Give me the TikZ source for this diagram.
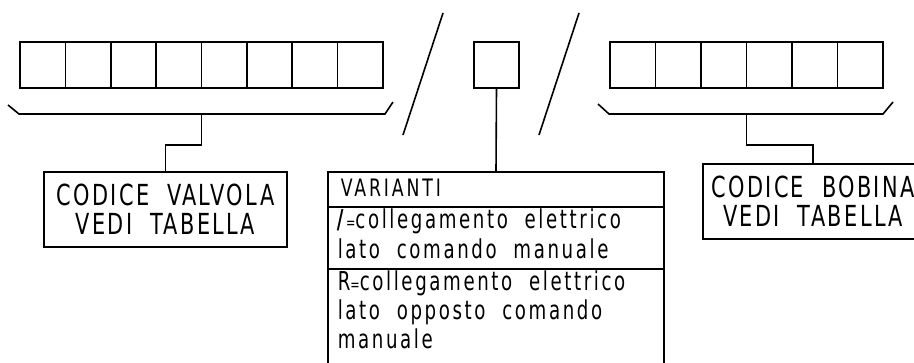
\documentclass[tikz,border=0pt]{standalone}
\usepackage{fontspec}
\newfontfamily\cadcaps{DejaVu Sans}[FakeStretch=0.72, LetterSpace=8, WordSpace=2]
\newfontfamily\cadtext{DejaVu Sans}[FakeStretch=0.7, LetterSpace=10, WordSpace=2]
\newfontfamily\cadhead{DejaVu Sans}[FakeStretch=0.72, LetterSpace=12]
\begin{document}
\begin{tikzpicture}[x=1pt, y=-1pt, line width=1.6pt,
  cell/.style={draw, minimum width=45.4pt, minimum height=46pt, inner sep=0pt, outer sep=0pt},
  capbox/.style={draw, inner sep=0pt, outer sep=0pt, align=center,
    font=\cadcaps\fontsize{29}{29}\selectfont},
  vline/.style={anchor=base west, inner sep=0pt, font=\cadtext\fontsize{26}{26}\selectfont}]
\useasboundingbox (0,0) rectangle (914,363);
\clip (0,0) rectangle (914,363);
% cell strips
\foreach \i in {1,...,8} \node[cell] (L\i) at ({20+45.375*(\i-0.5)},65) {};
\foreach \i in {1,...,6} \node[cell, minimum width=45.5pt] (R\i) at ({610+45.5*(\i-0.5)},65) {};
\node[cell, minimum width=45pt] (M) at (496.5,65) {};
% separating slashes
\draw (403,135) -- (443,13);
\draw (539,135) -- (579,13);
% brackets
\coordinate (lbm) at (201.5,114);
\coordinate (rbm) at (746.5,114);
\draw (8,105) -- (19,114) -- (385,114) -- (393,102);
\draw (598,104) -- (609,114) -- (883,114) -- (893,102);
% boxes
\node[capbox, minimum width=243pt, minimum height=75pt] (valvola) at (165.5,209.5)
  {CODICE VALVOLA\\VEDI TABELLA};
\node[capbox, minimum width=220pt, minimum height=75pt] (bobina) at (813,201.5)
  {CODICE BOBINA\\VEDI TABELLA};
\node[draw, inner sep=0pt, outer sep=0pt, minimum width=336pt, minimum height=210pt] (varianti) at (496,277) {};
\draw (varianti.west |- 0,207) -- (varianti.east |- 0,207);
\draw (varianti.west |- 0,269) -- (varianti.east |- 0,269);
% connectors
\draw (lbm) -- (201.5,145) -| (valvola.north);
\draw (rbm) -- (746.5,145) -| (bobina.north);
\draw (M.south) -- (varianti.north);
% varianti texts
\node[vline, font=\cadhead\fontsize{24}{24}\selectfont] (t0) at (340,197) {VARIANTI};
\node[vline] (t1) at (336,229) {\textbf{/}{\fontsize{16}{16}\selectfont =}collegamento elettrico};
\node[vline] (t2) at (337,259) {lato comando manuale};
\node[vline] (t3) at (337,291) {R{\fontsize{16}{16}\selectfont =}collegamento elettrico};
\node[vline] (t4) at (337,320) {lato opposto comando};
\node[vline] (t5) at (337,349) {manuale};
\end{tikzpicture}
\end{document}
